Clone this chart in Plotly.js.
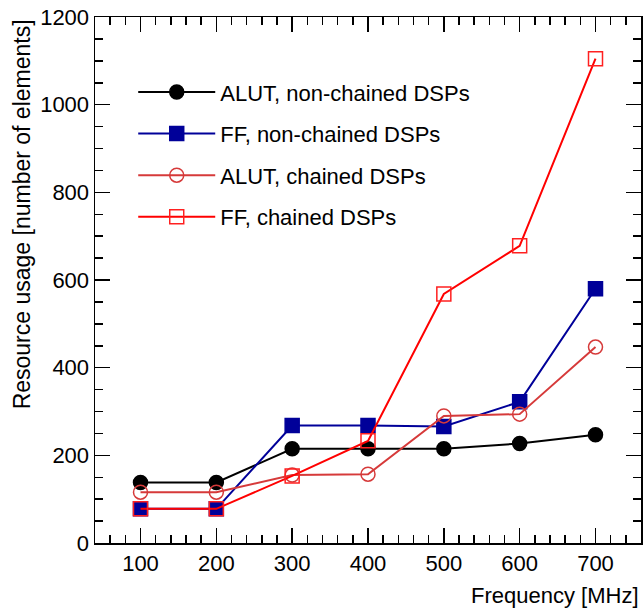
<!DOCTYPE html>
<html>
<head>
<meta charset="utf-8">
<script src="https://cdn.plot.ly/plotly-3.0.1.min.js"></script>
<style>html,body{margin:0;padding:0;background:#fff;}#chart{width:643px;height:610px;}</style>
</head>
<body>
<div id="chart"></div>
<script>
const frequencies = [100, 200, 300, 400, 500, 600, 700];
const alutNonChained = [138, 138, 215, 215, 215, 227, 247];
const ffNonChained = [78, 78, 268, 268, 266, 322, 580];
const alutChained = [116, 116, 155, 157, 290, 294, 447];
const ffChained = [78, 78, 153, 233, 568, 678, 1105];
const seriesNames = ["ALUT, non-chained DSPs", "FF, non-chained DSPs", "ALUT, chained DSPs", "FF, chained DSPs"];
const xTitle = "Frequency [MHz]";
const yTitle = "Resource usage [number of elements]";

const FONT = "Liberation Sans, Arial, Helvetica, sans-serif";

function tr(y, name, color, symbol, lineColor, group) {
  return {
    x: frequencies, y: y, name: name, type: "scatter", mode: "lines+markers",
    line: {color: lineColor, width: 2},
    marker: {color: color, symbol: symbol, size: 14, line: {color: color, width: 1.5}},
    legendgroup: group
  };
}

const data = [
  tr(alutNonChained, seriesNames[0], "#000000", "circle", "#000000", "g1"),
  tr(ffNonChained, seriesNames[1], "#000099", "square", "#000099", "g2"),
  tr(alutChained, seriesNames[2], "#d63a3a", "circle-open", "#d63a3a", "g3"),
  tr(ffChained, seriesNames[3], "#ff2020", "square-open", "#ff0000", "g4")
];

const axisCommon = {
  showgrid: false, zeroline: false, showline: true, linecolor: "#000", linewidth: 1.5,
  mirror: "allticks", ticks: "inside", ticklen: 15, tickwidth: 1.5, tickcolor: "#000",
  tickfont: {family: FONT, size: 22, color: "#000"}, fixedrange: true
};

const layout = {
  width: 643, height: 610,
  margin: {l: 95, r: 2, t: 17, b: 67},
  paper_bgcolor: "#fff", plot_bgcolor: "#fff",
  font: {family: FONT, color: "#000"},
  xaxis: Object.assign({}, axisCommon, {
    range: [40, 760], tickmode: "array", tickvals: frequencies, ticktext: frequencies.map(String),
    minor: {dtick: 20, tick0: 0, ticklen: 8, ticks: "inside", tickcolor: "#000", tickwidth: 1.5}
  }),
  yaxis: Object.assign({}, axisCommon, {
    range: [0, 1200], dtick: 200, tick0: 0, ticklabelstandoff: 0,
    minor: {dtick: 50, tick0: 0, ticklen: 8, ticks: "inside", tickcolor: "#000", tickwidth: 1.5}
  }),
  showlegend: true,
  legend: {
    x: 0.07, y: 0.897, xanchor: "left", yanchor: "top",
    bgcolor: "rgba(0,0,0,0)", borderwidth: 0,
    font: {family: FONT, size: 22, color: "#000"},
    tracegroupgap: 10, itemwidth: 77, traceorder: "grouped"
  },
  annotations: [
    {text: xTitle, xref: "paper", yref: "paper", x: 1, y: -0.1, xanchor: "right", yanchor: "middle",
     showarrow: false, font: {family: FONT, size: 22, color: "#000"}},
    {text: yTitle, xref: "paper", yref: "paper", x: -0.134, y: 0.999, xanchor: "center", yanchor: "top",
     textangle: -90, showarrow: false, font: {family: FONT, size: 23, color: "#000"}}
  ]
};

Plotly.newPlot("chart", data, layout, {staticPlot: true, displayModeBar: false});
</script>
</body>
</html>
